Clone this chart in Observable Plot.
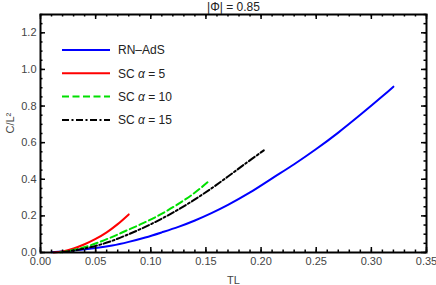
<!DOCTYPE html>
<html>
<head>
<meta charset="utf-8">
<script src="https://cdn.jsdelivr.net/npm/d3@7"></script>
<script src="https://cdn.jsdelivr.net/npm/@observablehq/plot@0.6"></script>
<style>
  html, body { margin: 0; padding: 0; background: #fff; }
  #chart svg { display: block; font-family: "Liberation Sans", Arial, sans-serif; }
</style>
</head>
<body>
<div id="chart"></div>
<script>
// ---- data ----
const rnTL = [0.010, 0.030, 0.050, 0.065, 0.080, 0.095, 0.110, 0.125, 0.140, 0.155, 0.170, 0.190, 0.210, 0.230, 0.250, 0.270, 0.290, 0.310, 0.320];
const rnC  = [0.002, 0.011, 0.024, 0.038, 0.058, 0.082, 0.110, 0.140, 0.175, 0.215, 0.260, 0.328, 0.405, 0.482, 0.565, 0.655, 0.752, 0.853, 0.906];

const sc5TL = [0.012, 0.020, 0.030, 0.040, 0.050, 0.060, 0.070, 0.080];
const sc5C  = [0.000, 0.006, 0.022, 0.045, 0.074, 0.110, 0.155, 0.208];

const sc10TL = [0.018, 0.033, 0.048, 0.063, 0.078, 0.093, 0.108, 0.123, 0.138, 0.152];
const sc10C  = [0.001, 0.018, 0.045, 0.080, 0.120, 0.160, 0.205, 0.258, 0.318, 0.386];

const sc15TL = [0.020, 0.035, 0.050, 0.065, 0.080, 0.095, 0.110, 0.125, 0.140, 0.155, 0.170, 0.185, 0.2025];
const sc15C  = [0.002, 0.016, 0.036, 0.064, 0.100, 0.140, 0.185, 0.235, 0.290, 0.350, 0.415, 0.482, 0.558];

const seriesNames  = ["RN\u2013AdS", "SC \u03b1 = 5", "SC \u03b1 = 10", "SC \u03b1 = 15"];
const seriesColors = ["#0000ff", "#ff0000", "#00e000", "#000000"];
const seriesDash   = [null, null, "7,3.5", "7,2.5,2,2.5"];

const xMajor = [0, 0.05, 0.10, 0.15, 0.20, 0.25, 0.30, 0.35];
const yMajor = [0, 0.2, 0.4, 0.6, 0.8, 1.0, 1.2];
const xMinor = d3.range(0, 0.3501, 0.01);
const yMinor = d3.range(0, 1.3001, 0.05);

const title = "|\u03a6| = 0.85";
const xLabel = "TL";
const yLabel = "C/L\u00b2";

// ---- build ----
const W = 436, H = 285;
const mL = 40, mR = 10, mT = 14, mB = 33;
const innerH = H - mT - mB;
const innerW = W - mL - mR;

const xs = [rnTL, sc5TL, sc10TL, sc15TL];
const ys = [rnC, sc5C, sc10C, sc15C];
const rows = [];
xs.forEach((arr, i) => arr.forEach((x, j) => rows.push({series: seriesNames[i], i, x, y: ys[i][j]})));

const majLen = 5, minLen = 2.5;
const lineMarks = seriesNames.map((s, i) =>
  Plot.line(rows.filter(d => d.i === i), {
    x: "x", y: "y", stroke: seriesColors[i], strokeWidth: 2,
    strokeDasharray: seriesDash[i] || undefined, curve: "catmull-rom"
  })
);

const plot = Plot.plot({
  width: W, height: H,
  marginLeft: mL, marginRight: mR, marginTop: mT, marginBottom: mB,
  style: {fontFamily: "Liberation Sans, Arial, sans-serif", fontSize: "11px", background: "#fff"},
  x: {domain: [0, 0.35]},
  y: {domain: [0, 1.3]},
  marks: [
    ...lineMarks,
    // ticks: bottom/top
    Plot.tickX(xMinor, {x: d => d, insetTop: innerH - minLen, stroke: "#000", strokeWidth: 1.5}),
    Plot.tickX(xMinor, {x: d => d, insetBottom: innerH - minLen, stroke: "#000", strokeWidth: 1.5}),
    Plot.tickX(xMajor, {x: d => d, insetTop: innerH - majLen, stroke: "#000", strokeWidth: 1.5}),
    Plot.tickX(xMajor, {x: d => d, insetBottom: innerH - majLen, stroke: "#000", strokeWidth: 1.5}),
    // ticks: left/right
    Plot.tickY(yMinor, {y: d => d, insetRight: innerW - minLen, stroke: "#000", strokeWidth: 1.5}),
    Plot.tickY(yMinor, {y: d => d, insetLeft: innerW - minLen, stroke: "#000", strokeWidth: 1.5}),
    Plot.tickY(yMajor, {y: d => d, insetRight: innerW - majLen, stroke: "#000", strokeWidth: 1.5}),
    Plot.tickY(yMajor, {y: d => d, insetLeft: innerW - majLen, stroke: "#000", strokeWidth: 1.5}),
    Plot.frame({stroke: "#000", strokeWidth: 2}),
    Plot.axisX(xMajor, {anchor: "bottom", tickSize: 0, tickPadding: 5, tickFormat: d3.format(".2f"), fill: "#444", fontSize: 11, label: null}),
    Plot.axisY(yMajor, {anchor: "left", tickSize: 0, tickPadding: 4, tickFormat: d3.format(".1f"), fill: "#444", fontSize: 11, label: null}),
    Plot.text([xLabel], {frameAnchor: "bottom", text: d => d, dy: 28, lineAnchor: "middle", fill: "#444", fontSize: 11}),
    Plot.text([yLabel], {frameAnchor: "left", text: d => d, dx: -30, rotate: -90, fill: "#444", fontSize: 11}),
    Plot.text([title], {frameAnchor: "top", text: d => d, dy: -7, lineAnchor: "middle", fill: "#222", fontSize: 12})
  ]
});

// ---- legend (inside the frame, top-left) ----
const svg = d3.select(plot);
const lg = svg.append("g").attr("transform", `translate(${mL + 22},${mT + 36})`);
seriesNames.forEach((name, i) => {
  const g = lg.append("g").attr("transform", `translate(0,${i * 23.3})`);
  g.append("line").attr("x1", 0).attr("x2", 48).attr("y1", 0).attr("y2", 0)
    .attr("stroke", seriesColors[i]).attr("stroke-width", 2)
    .attr("stroke-dasharray", seriesDash[i]);
  const t = g.append("text").attr("x", 56).attr("y", 0).attr("dy", "0.35em")
    .attr("text-anchor", "start")
    .attr("font-size", 12).attr("fill", "#222")
    .attr("font-family", "Liberation Sans, Arial, sans-serif");
  const parts = name.split("\u03b1");
  t.append("tspan").text(parts[0]);
  if (parts.length > 1) {
    t.append("tspan").attr("font-style", "italic").text("\u03b1");
    t.append("tspan").text(parts[1]);
  }
});

document.getElementById("chart").appendChild(plot);
</script>
</body>
</html>
